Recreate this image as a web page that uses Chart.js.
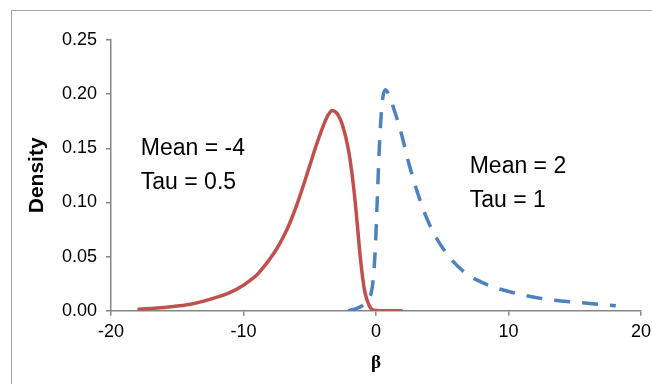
<!DOCTYPE html>
<html>
<head>
<meta charset="utf-8">
<script src="https://cdn.jsdelivr.net/npm/chart.js@4.4.0/dist/chart.umd.min.js"></script>
<style>
  html, body { margin: 0; padding: 0; background: #fff; }
  #wrap { position: relative; width: 652px; height: 384px; overflow: hidden; }
  #frame { position: absolute; left: 11px; top: 10px; width: 700px; height: 400px;
           border-left: 1px solid #a6a6a6; border-top: 1px solid #a6a6a6; }
  canvas { position: absolute; left: 0; top: 0; }
</style>
</head>
<body>
<div id="wrap">
  <div id="frame"></div>
  <canvas id="chart" width="652" height="384"></canvas>
</div>
<script>
// tick values
const xTicks = [-20, -10, 0, 10, 20];
const yTicks = [0, 0.05, 0.10, 0.15, 0.20, 0.25];

// Mean = -4, Tau = 0.5 (solid red)
const redBeta = [-18, -17, -16, -15, -14, -13, -12, -11, -10, -9.5, -9, -8.5, -8, -7.5, -7, -6.5, -6,
                 -5.5, -5, -4.5, -4, -3.6, -3.3, -3.0, -2.7, -2.4, -2.15, -1.95, -1.67, -1.42, -1.19,
                 -0.87, -0.49, -0.2, 0.3, 2];
const redDensity = [0.0013, 0.002, 0.003, 0.0043, 0.006, 0.0088, 0.0125, 0.017, 0.0236, 0.028, 0.033,
                    0.040, 0.048, 0.057, 0.068, 0.081, 0.097, 0.115, 0.134, 0.153, 0.170, 0.181, 0.185,
                    0.183, 0.177, 0.166, 0.153, 0.139, 0.112, 0.081, 0.050, 0.019, 0.004, 0.0005, 0, 0];

// Mean = 2, Tau = 1 (dashed blue)
const blueBeta = [-2.1, -1.5, -1.0, -0.6, -0.37, -0.2, -0.05, 0.1, 0.25, 0.45, 0.7, 0.95, 1.25, 1.88,
                  2.5, 3.27, 4.02, 5.03, 6.53, 8.3, 10.3, 12.8, 15.3, 18.1];
const blueDensity = [0.0, 0.002, 0.005, 0.010, 0.016, 0.03, 0.058, 0.104, 0.150, 0.19, 0.204, 0.200,
                     0.19, 0.165, 0.135, 0.104, 0.080, 0.058, 0.037, 0.0245, 0.0168, 0.0107, 0.0076, 0.0046];

const noteLeft = ['Mean = -4', 'Tau = 0.5'];
const noteRight = ['Mean = 2', 'Tau = 1'];

const FONT = '"Liberation Sans", Arial, Helvetica, sans-serif';
const AXIS = '#868686';

const toPoints = (xs, ys) => xs.map((x, i) => ({ x: x, y: ys[i] }));

// text boxes inside the plot
const notesPlugin = {
    id: 'notes',
    afterDatasetsDraw(chart) {
        const { ctx, scales: { x, y } } = chart;
        ctx.save();
        ctx.font = '23px ' + FONT;
        ctx.fillStyle = '#000';
        ctx.textAlign = 'left';
        ctx.textBaseline = 'alphabetic';
        const draw = (lines, bx, by) => {
            const px = x.getPixelForValue(bx);
            const py = y.getPixelForValue(by);
            lines.forEach((t, i) => ctx.fillText(t, px, py + i * 34));
        };
        draw(noteLeft, -17.75, 0.1437);
        draw(noteRight, 7.07, 0.1269);
        ctx.restore();
    }
};

new Chart(document.getElementById('chart').getContext('2d'), {
    type: 'scatter',
    data: {
        datasets: [
            {
                label: 'Mean = -4, Tau = 0.5',
                data: toPoints(redBeta, redDensity),
                showLine: true,
                borderColor: '#c0504d',
                borderWidth: 3.5,
                pointRadius: 0,
                cubicInterpolationMode: 'monotone'
            },
            {
                label: 'Mean = 2, Tau = 1',
                data: toPoints(blueBeta, blueDensity),
                showLine: true,
                borderColor: '#4f81bd',
                borderWidth: 3.5,
                borderDash: [16, 12],
                pointRadius: 0,
                cubicInterpolationMode: 'monotone'
            }
        ]
    },
    options: {
        responsive: false,
        animation: false,
        layout: { padding: { left: 0, right: 11, top: 40, bottom: 0 } },
        plugins: {
            legend: { display: false },
            tooltip: { enabled: false }
        },
        scales: {
            x: {
                type: 'linear',
                min: -20,
                max: 20,
                afterBuildTicks: s => { s.ticks = xTicks.map(v => ({ value: v })); },
                afterFit: s => { s.height = 73.3; s.paddingLeft = 0; s.paddingRight = 0; },
                border: { color: AXIS, width: 1.5 },
                grid: { drawOnChartArea: false, color: AXIS, lineWidth: 1.5, tickLength: 5 },
                ticks: { color: '#000', font: { family: FONT, size: 18 }, padding: 6, maxRotation: 0 },
                title: {
                    display: true,
                    text: 'β',
                    color: '#000',
                    font: { family: '"Liberation Serif", "Times New Roman", serif', size: 19, weight: 'bold' },
                    padding: { top: 0, bottom: 10 }
                }
            },
            y: {
                min: 0,
                max: 0.25,
                afterBuildTicks: s => { s.ticks = yTicks.map(v => ({ value: v })); },
                afterFit: s => { s.width = 111; s.paddingTop = 0; s.paddingBottom = 0; },
                border: { color: AXIS, width: 1.5 },
                grid: { drawOnChartArea: false, color: AXIS, lineWidth: 1.5, tickLength: 5 },
                ticks: {
                    color: '#000',
                    font: { family: FONT, size: 18 },
                    padding: 9,
                    callback: v => v.toFixed(2)
                },
                title: {
                    display: true,
                    text: 'Density',
                    color: '#000',
                    font: { family: FONT, size: 21, weight: 'bold' },
                    padding: { top: 25, bottom: 0 }
                }
            }
        }
    },
    plugins: [notesPlugin]
});
</script>
</body>
</html>
